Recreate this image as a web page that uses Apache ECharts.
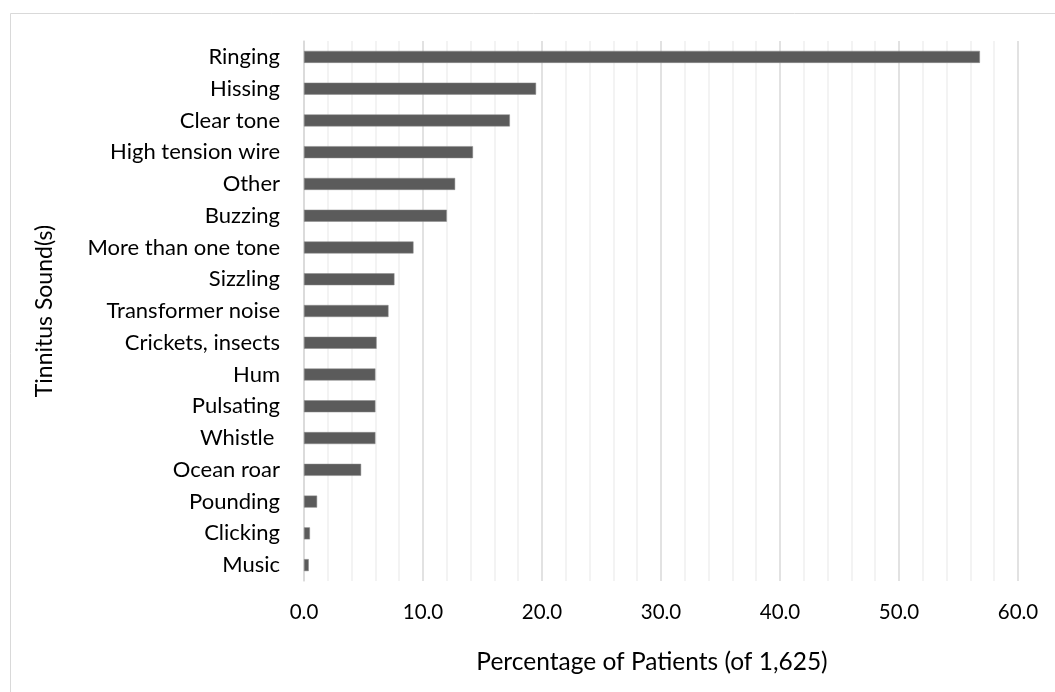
<!DOCTYPE html>
<html>
<head>
<meta charset="utf-8">
<script src="https://cdn.jsdelivr.net/npm/echarts@6/dist/echarts.min.js"></script>
<style>
  html, body { margin: 0; padding: 0; background: #fff; }
  #chart { width: 1055px; height: 692px; }
</style>
</head>
<body>
<div id="chart"></div>
<script>
// Tinnitus sound types, bottom to top on the category axis
const sounds = [
  'Music', 'Clicking', 'Pounding', 'Ocean roar', 'Whistle ', 'Pulsating', 'Hum',
  'Crickets, insects', 'Transformer noise', 'Sizzling', 'More than one tone',
  'Buzzing', 'Other', 'High tension wire', 'Clear tone', 'Hissing', 'Ringing'
];
// Share of patients reporting each sound (%)
const percentages = [
  0.4, 0.5, 1.1, 4.8, 6.0, 6.0, 6.0,
  6.1, 7.1, 7.6, 9.2,
  12.0, 12.7, 14.2, 17.3, 19.5, 56.8
];
const xTitle = 'Percentage of Patients (of 1,625)';
const yTitle = 'Tinnitus Sound(s)';

const font = 'Lato, "Open Sans", sans-serif';
const chart = echarts.init(document.getElementById('chart'), null, { renderer: 'canvas' });

chart.setOption({
  animation: false,
  backgroundColor: '#ffffff',
  textStyle: { fontFamily: font },
  graphic: [{
    type: 'rect',
    shape: { x: 10.5, y: 13.5, width: 1200, height: 800 },
    style: { fill: 'none', stroke: '#d9d9d9', lineWidth: 1 },
    silent: true,
    z: -10
  }],
  grid: { left: 304, right: 37, top: 41, bottom: 111, containLabel: false },
  xAxis: {
    type: 'value',
    min: 0,
    max: 60,
    interval: 10,
    name: xTitle,
    nameLocation: 'middle',
    nameGap: 69,
    nameTextStyle: { fontFamily: font, fontSize: 24.5, color: '#000', padding: [0, 18, 0, 0] },
    axisLine: { show: false },
    axisTick: { show: false },
    axisLabel: {
      fontFamily: font, fontSize: 20.5, color: '#000', margin: 21,
      formatter: v => v.toFixed(1)
    },
    splitLine: { show: true, lineStyle: { color: '#d9d9d9', width: 1.5 } },
    minorTick: { show: false, splitNumber: 5 },
    minorSplitLine: { show: true, lineStyle: { color: '#f0f0f0', width: 1.5 } }
  },
  yAxis: {
    type: 'category',
    data: sounds,
    name: yTitle,
    nameLocation: 'middle',
    nameGap: 248,
    nameRotate: 90,
    nameTextStyle: { fontFamily: font, fontSize: 23, color: '#000' },
    axisLine: { show: true, lineStyle: { color: '#d9d9d9', width: 1.5 } },
    axisTick: { show: false },
    axisLabel: { fontFamily: font, fontSize: 22, color: '#000', margin: 24 }
  },
  series: [{
    type: 'bar',
    data: percentages,
    barWidth: 12,
    itemStyle: { color: '#5b5b5b', borderColor: '#8a8a8a', borderWidth: 0.5 }
  }]
});
</script>
</body>
</html>
